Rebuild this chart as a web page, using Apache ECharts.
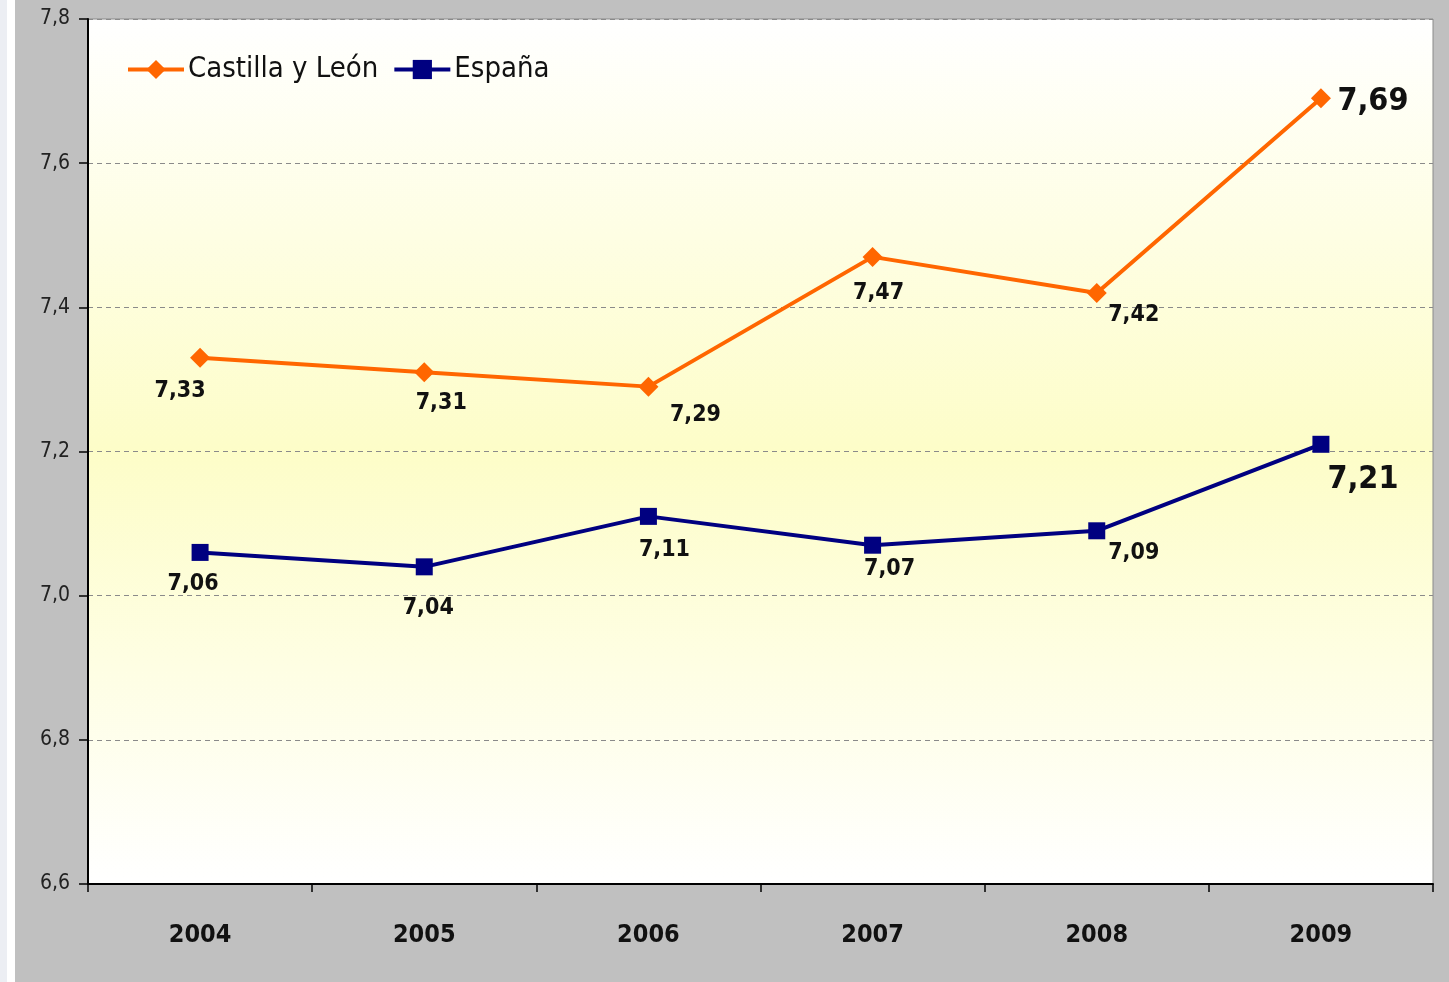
<!DOCTYPE html>
<html>
<head>
<meta charset="utf-8">
<script src="https://cdn.jsdelivr.net/npm/echarts@6/dist/echarts.min.js"></script>
<style>
  html, body { margin: 0; padding: 0; background: #ffffff; width: 1449px; height: 982px; overflow: hidden; }
  #strip { position: absolute; left: 0; top: 0; width: 7px; height: 982px; background: #eceef3; }
  #chart { position: absolute; left: 15px; top: 0; width: 1434px; height: 982px; background: #c0c0c0; }
</style>
</head>
<body>
<div id="strip"></div>
<div id="chart"></div>
<script>
// años y valores
var years = ['2004', '2005', '2006', '2007', '2008', '2009'];
var castilla = [7.33, 7.31, 7.29, 7.47, 7.42, 7.69];
var espana = [7.06, 7.04, 7.11, 7.07, 7.09, 7.21];
var yTicks = { min: 6.6, max: 7.8, step: 0.2 };

// desplazamiento de cada etiqueta respecto a su marcador (estilo, no datos)
var offCastilla = [[-20, 33], [17, 31], [47, 28], [6, 36], [37, 22], [52, 3]];
var offEspana = [[-7, 32], [4, 41], [16, 34], [17, 24], [37, 22], [42, 35]];

var FONT = '"DejaVu Sans Condensed", "DejaVu Sans", sans-serif';

function fmt(v) { return Number(v).toFixed(2).replace('.', ','); }

function points(vals, offs) {
  return vals.map(function (v, i) {
    var last = i === vals.length - 1;
    return {
      value: v,
      label: {
        offset: offs[i],
        fontSize: last ? 32 : 23,
        fontWeight: 'bold'
      }
    };
  });
}

function lineSeries(name, color, symbol, size, vals, offs) {
  return {
    name: name,
    type: 'line',
    symbol: symbol,
    symbolSize: size,
    lineStyle: { color: color, width: 4 },
    itemStyle: { color: color },
    label: {
      show: true,
      position: 'inside',
      color: '#111',
      fontFamily: FONT,
      formatter: function (p) { return fmt(p.value); }
    },
    emphasis: { disabled: true },
    animation: false,
    data: points(vals, offs)
  };
}

var chart = echarts.init(document.getElementById('chart'));
chart.setOption({
  animation: false,
  textStyle: { fontFamily: FONT },
  grid: {
    left: 73, right: 16, top: 19, bottom: 98,
    show: true,
    borderColor: '#8a8a8a',
    borderWidth: 1,
    backgroundColor: new echarts.graphic.LinearGradient(0, 0, 0, 1, [
      { offset: 0, color: '#ffffff' },
      { offset: 0.5, color: '#fdfdc8' },
      { offset: 1, color: '#ffffff' }
    ])
  },
  legend: {
    left: 106, top: 50,
    itemWidth: 56, itemHeight: 24, itemGap: 14,
    lineStyle: { width: 4 },
    textStyle: { fontSize: 29, color: '#111', fontFamily: FONT, padding: [0, 0, 0, -1] },
    data: ['Castilla y León', 'España']
  },
  xAxis: {
    type: 'category',
    data: years,
    boundaryGap: true,
    axisLine: { lineStyle: { color: '#000', width: 2 } },
    axisTick: { show: true, length: 8, interval: 0, lineStyle: { color: '#000', width: 1.5 } },
    axisLabel: { margin: 39, fontSize: 25, fontWeight: 'bold', color: '#111' },
    splitLine: { show: false }
  },
  yAxis: {
    type: 'value',
    min: yTicks.min, max: yTicks.max, interval: yTicks.step,
    axisLine: { show: true, lineStyle: { color: '#000', width: 2 } },
    axisTick: { show: true, length: 9, lineStyle: { color: '#000', width: 1.5 } },
    axisLabel: {
      margin: 18, fontSize: 21, color: '#222',
      formatter: function (v) { return Number(v).toFixed(1).replace('.', ','); }
    },
    splitLine: { lineStyle: { color: '#8a8a8a', type: [5, 4], width: 1 } }
  },
  series: [
    lineSeries('Castilla y León', '#ff6600', 'diamond', 20, castilla, offCastilla),
    lineSeries('España', '#000080', 'rect', 17, espana, offEspana)
  ]
});
</script>
</body>
</html>
